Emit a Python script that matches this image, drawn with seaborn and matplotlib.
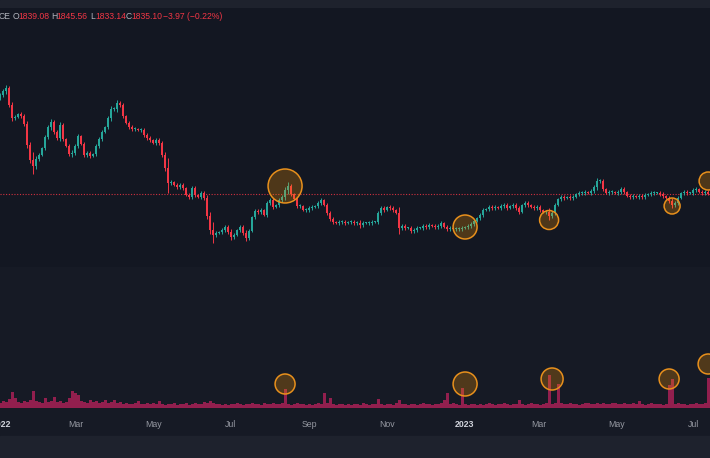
import pandas as pd
import numpy as np
import seaborn as sns
import matplotlib.pyplot as plt
import matplotlib.dates as mdates

# closing prices, one candle every ~56.7 hours from the last day of 2021
closes = [
    2082.5, 2092.5, 2100, 2057.5, 2025, 2027.5, 2035, 2030, 2010, 1957.5,
    1920, 1905, 1922.5, 1932.5, 1950, 1977.5, 2002.5, 2015, 1990, 1975,
    2007.5, 1972.5, 1955, 1935, 1937.5, 1955, 1980, 1960, 1932.5, 1937.5,
    1930, 1935, 1955, 1972.5, 1990, 2002.5, 2025, 2047.5, 2047.5, 2062.5,
    2057.5, 2030, 2012.5, 2002.5, 1997.5, 1997.5, 1995, 1995, 1982.5, 1975,
    1970, 1962.5, 1970, 1962.5, 1932.5, 1900, 1862.5, 1865, 1857.5, 1852.5,
    1857.5, 1850, 1832.5, 1827.5, 1850, 1832.5, 1827.5, 1837.5, 1825, 1780,
    1745, 1732.5, 1737.5, 1740, 1745, 1752.5, 1740, 1727.5, 1732.5, 1745,
    1752.5, 1737.5, 1725, 1742.5, 1777.5, 1792.5, 1790, 1795, 1782.5, 1812.5,
    1820, 1802.5, 1807.5, 1820, 1827.5, 1845, 1855, 1835, 1822.5, 1805,
    1805, 1795, 1795, 1800, 1802.5, 1805, 1812.5, 1820, 1807.5, 1787.5,
    1772.5, 1765, 1762.5, 1765, 1765, 1762.5, 1765, 1765, 1762.5, 1762.5,
    1757.5, 1762.5, 1762.5, 1762.5, 1765, 1765, 1787.5, 1800, 1795, 1802.5,
    1800, 1795, 1787.5, 1750, 1755, 1750, 1750, 1742.5, 1745, 1750,
    1750, 1755, 1752.5, 1757.5, 1755, 1752.5, 1755, 1762.5, 1752.5, 1747.5,
    1750, 1747.5, 1747.5, 1747.5, 1750, 1752.5, 1755, 1760, 1767.5, 1775,
    1782.5, 1795, 1797.5, 1802.5, 1800, 1802.5, 1800, 1805, 1807.5, 1800,
    1805, 1807.5, 1800, 1790, 1807.5, 1812.5, 1807.5, 1802.5, 1800, 1802.5,
    1795, 1790, 1790, 1780, 1787.5, 1807.5, 1822.5, 1827.5, 1825, 1827.5,
    1825, 1827.5, 1835, 1837.5, 1837.5, 1840, 1837.5, 1842.5, 1852.5, 1867.5,
    1867.5, 1847.5, 1837.5, 1840, 1840, 1837.5, 1840, 1847.5, 1840, 1830,
    1827.5, 1830, 1827.5, 1830, 1827.5, 1832.5, 1835, 1837.5, 1837.5, 1837.5,
    1835, 1830, 1825, 1817.5, 1807.5, 1812.5, 1825, 1837.5, 1840, 1837.5,
    1837.5, 1845, 1847.5, 1840, 1837.5, 1839.08, 1835.10,
]
first_open = 2075
last_high, last_low = 1845.56, 1833.14

# how far each candle's wick reaches past its body
wicks = [
    5, 5, 7.5, 5, 7.5, 5, 2.5, 5, 5, 7.5,
    7.5, 20, 7.5, 5, 2.5, 5, 5, 7.5, 5, 5,
    7.5, 5, 2.5, 5, 7.5, 5, 5, 2.5, 5, 5,
    5, 2.5, 5, 5, 5, 2.5, 5, 7.5, 5, 7.5,
    5, 5, 2.5, 5, 5, 5, 2.5, 5, 5, 5,
    5, 2.5, 5, 5, 5, 7.5, 25, 5, 2.5, 5,
    5, 5, 2.5, 5, 5, 5, 2.5, 5, 5, 7.5,
    10, 20, 5, 2.5, 5, 5, 5, 7.5, 5, 2.5,
    5, 5, 7.5, 5, 2.5, 5, 5, 5, 2.5, 5,
    5, 5, 2.5, 5, 5, 7.5, 10, 5, 2.5, 5,
    5, 2.5, 5, 5, 5, 2.5, 5, 5, 2.5, 5,
    5, 5, 2.5, 5, 5, 5, 2.5, 5, 5, 5,
    7.5, 5, 2.5, 5, 5, 2.5, 5, 5, 5, 2.5,
    5, 5, 2.5, 15, 5, 5, 2.5, 5, 5, 5,
    2.5, 5, 5, 5, 2.5, 5, 5, 5, 2.5, 5,
    5, 2.5, 5, 5, 5, 2.5, 5, 5, 5, 2.5,
    5, 5, 2.5, 5, 5, 5, 2.5, 5, 5, 5,
    2.5, 5, 5, 5, 2.5, 5, 5, 2.5, 5, 5,
    5, 2.5, 5, 10, 5, 5, 2.5, 5, 5, 2.5,
    5, 5, 2.5, 5, 5, 5, 2.5, 5, 5, 7.5,
    5, 5, 2.5, 5, 5, 2.5, 5, 5, 5, 2.5,
    5, 5, 2.5, 5, 5, 5, 2.5, 5, 5, 2.5,
    5, 5, 2.5, 5, 7.5, 5, 5, 2.5, 5, 5,
    2.5, 5, 5, 2.5, 5, 5, 0,
]

volumes = [
    5, 7, 6, 9, 16, 10, 6, 5, 7, 6,
    8, 17, 7, 6, 5, 10, 6, 7, 11, 6,
    7, 5, 6, 10, 17, 15, 13, 7, 6, 5,
    8, 6, 7, 5, 6, 8, 5, 6, 8, 5,
    6, 4, 5, 4, 4, 5, 7, 4, 4, 5,
    4, 5, 4, 7, 4, 3, 4, 4, 5, 3,
    4, 4, 5, 3, 4, 5, 4, 4, 6, 5,
    7, 5, 4, 4, 3, 4, 3, 4, 4, 5,
    4, 3, 4, 4, 5, 4, 4, 3, 5, 4,
    4, 5, 4, 4, 5, 19, 4, 3, 4, 5,
    4, 4, 3, 4, 3, 4, 5, 4, 15, 5,
    10, 4, 3, 4, 4, 3, 4, 3, 4, 4,
    3, 5, 4, 3, 4, 4, 9, 4, 3, 4,
    4, 3, 5, 8, 4, 4, 3, 4, 4, 3,
    4, 5, 4, 4, 3, 4, 4, 5, 8, 15,
    4, 5, 4, 3, 20, 4, 3, 4, 4, 3,
    4, 3, 4, 5, 4, 3, 4, 4, 5, 4,
    3, 4, 4, 8, 4, 3, 4, 5, 4, 4,
    3, 4, 5, 33, 4, 5, 24, 5, 4, 4,
    5, 4, 4, 3, 4, 5, 5, 4, 4, 5,
    4, 5, 4, 4, 5, 5, 4, 4, 5, 4,
    4, 5, 4, 7, 4, 3, 4, 5, 4, 4,
    4, 3, 4, 23, 29, 4, 5, 4, 4, 3,
    4, 4, 5, 4, 4, 5, 30,
]

# highlighted events (candle index, marker level, ring radius in px)
price_events = [95, 155, 183, 224, 236]
price_marks = [1855, 1752.5, 1770, 1805, 1867.5]
price_rings = [17, 12, 9.5, 8, 9]
vol_events = [95, 155, 184, 223, 236]
vol_marks = [24, 24, 29, 29, 44]
vol_rings = [10, 12, 11, 10, 10]

tick_dates = pd.date_range('2022-01-01', '2023-07-01', freq='2MS')

header = [('CE', 'grey'), ('O', 'grey'), ('1839.08', 'red'), ('H', 'grey'), ('1845.56', 'red'),
          ('L', 'grey'), ('1833.14', 'red'), ('C', 'grey'), ('1835.10', 'red'),
          ('\u22123.97 (\u22120.22%)', 'red')]
header_x = [-1.5, 12.5, 18.3, 51, 56.7, 90, 95, 126, 131.7, 163.3]

BG = '#131722'
BG_VOL = '#161a25'
UP, DOWN = '#26a69a', '#f23645'

df = pd.DataFrame({
    'date': pd.date_range('2021-12-31 06:00', periods=len(closes), freq='3404min'),
    'close': closes,
    'volume': volumes,
    'wick': wicks,
})
df['open'] = [first_open] + closes[:-1]
df['x'] = mdates.date2num(df['date'])
df['lo'] = df[['open', 'close']].min(axis=1)
df['hi'] = df[['open', 'close']].max(axis=1)
df['h'] = (df['hi'] - df['lo']).clip(lower=1.6)
df['low'] = df['lo'] - df['wick']
df['high'] = df['hi'] + df['wick']
df.loc[df.index[-1], ['low', 'high']] = [last_low, last_high]
df['col'] = np.where(df['close'] >= df['open'], UP, DOWN)

sns.set_theme(style='dark', rc={'axes.facecolor': BG, 'figure.facecolor': BG_VOL})
plt.rcParams['font.family'] = ['Liberation Sans', 'DejaVu Sans']

W, H = 710, 458
fig = plt.figure(figsize=(W / 100, H / 100), dpi=100)
ax = fig.add_axes([0, 1 - 267 / H, 1, 259 / H])
axv = fig.add_axes([0, 1 - 408 / H, 1, 140 / H], sharex=ax)
axv.set_facecolor(BG_VOL)

# strips of the app window
fig.patches.append(plt.Rectangle((0, 1 - 8 / H), 1, 8 / H, transform=fig.transFigure,
                                 color='#1e222d', zorder=-1))
fig.patches.append(plt.Rectangle((0, 0), 1, 22 / H, transform=fig.transFigure,
                                 color='#1e222d', zorder=-1))

# candles
ax.vlines(df['x'], df['low'], df['high'], colors=df['col'], lw=0.7, zorder=3)
ax.bar(df['x'], df['h'], bottom=df['lo'], width=2.0, color=df['col'], linewidth=0, zorder=3)
ax.axhline(closes[-1], color=DOWN, lw=0.8, ls=(0, (1, 1.5)), alpha=0.85, zorder=2)

ring_fc = (1.0, 0.6, 0.0, 0.25)
ring_ec = '#e8901c'
sns.scatterplot(x=df['x'].iloc[price_events].values, y=price_marks,
                s=[(1.44 * r) ** 2 for r in price_rings], facecolor=ring_fc,
                edgecolor=ring_ec, linewidth=1.1, legend=False, ax=ax, zorder=5)

# volume
axv.bar(df['x'], df['volume'], width=2.36, color='#921f4e', linewidth=0, zorder=3)
sns.scatterplot(x=df['x'].iloc[vol_events].values, y=vol_marks,
                s=[(1.44 * r) ** 2 for r in vol_rings], facecolor=ring_fc,
                edgecolor=ring_ec, linewidth=1.1, legend=False, ax=axv, zorder=5)

x0 = df['x'].iloc[0] - 0.04
ax.set_xlim(x0, x0 + W / 1.2692)
ax.set_ylim(1652.5, 2300)
axv.set_ylim(0, 140)

for a in (ax, axv):
    a.grid(False)
    for s in a.spines.values():
        s.set_visible(False)
    a.set_yticks([])
    a.set_xlabel('')
    a.set_ylabel('')
ax.tick_params(axis='x', bottom=False, labelbottom=False)

ticks = mdates.date2num(tick_dates)
labels = [str(d.year) if d.month == 1 else d.strftime('%b') for d in tick_dates]
axv.set_xticks(ticks, labels)
axv.tick_params(axis='x', length=0, pad=8.5, labelsize=6.3)
for lab in axv.get_xticklabels():
    if lab.get_text().isdigit():
        lab.set_color('#d1d4dc')
        lab.set_fontweight('bold')
    else:
        lab.set_color('#9598a1')
axv.set_xlim(x0, x0 + W / 1.2692)

for (txt, kind), xp in zip(header, header_x):
    fig.text(xp / W, 1 - 16.5 / H, txt, ha='left', va='center', fontsize=6.2,
             color=DOWN if kind == 'red' else '#b2b5be')

fig.savefig('out.png', dpi=100, facecolor=BG_VOL)
